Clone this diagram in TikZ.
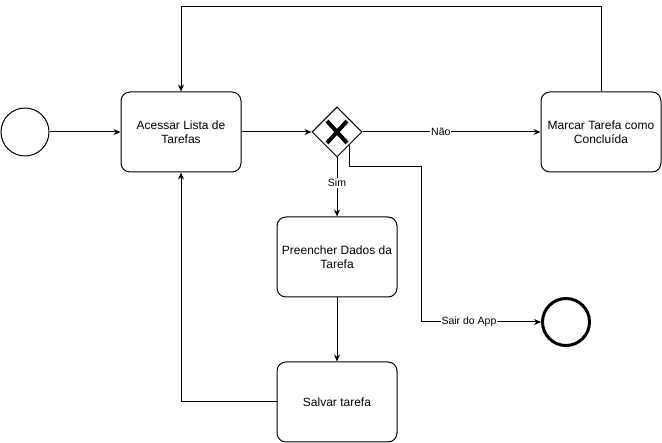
\documentclass[tikz,border=0pt]{standalone}
\usepackage{fontspec}
\setmainfont{Liberation Sans}
\usetikzlibrary{positioning, arrows.meta, shapes.geometric}
\tikzset{
    >={Stealth[length=7pt,width=6pt]}, % arrow heads as in the flow chart
    task/.style={draw, rounded corners=9pt, minimum width=120pt, minimum height=80pt, align=center, font=\fontsize{12}{14.5}\selectfont, line width=1pt},
    event/.style={draw, circle, minimum size=48pt, line width=1pt},
    endevent/.style={draw, circle, minimum size=47pt, line width=3pt},
    gateway/.style={draw, diamond, minimum size=50pt, inner sep=0pt, line width=1pt},
    flow/.style={->, line width=1pt},
    lbl/.style={fill=white, font=\fontsize{10.5}{12}\selectfont, inner sep=1pt}
}

\begin{document}
\begin{tikzpicture}[x=1pt, y=1pt]
            \useasboundingbox (0,0) rectangle (662,-443);
            \node[task] (acc) at (181,-132) {Acessar Lista de\\Tarefas};
            \node[event] (start) [left=71pt of acc] {};
            \node[gateway] (gw) [right=70pt of acc] {};
            \node[task] (marc) [right=178pt of gw] {Marcar Tarefa como\\Concluída};
            \node[task] (pre) [below=59pt of gw] {Preencher Dados da\\Tarefa};
            \node[task] (sal) [below=64pt of pre] {Salvar tarefa};
            \node[endevent] (end) at (566,-322) {};
            \coordinate (top) at (0,-7);
            \coordinate (bend) at (421,-167);

            % X mark of the gateway
            \draw[line width=4pt] ([shift={(-10,-11)}]gw.center) -- ([shift={(10,11)}]gw.center);
            \draw[line width=4pt] ([shift={(-10,11)}]gw.center) -- ([shift={(10,-11)}]gw.center);

            \draw[flow] (start) -- (acc);
            \draw[flow] (acc) -- (gw);
            \draw[flow] (gw) -- node[lbl, pos=0.44] {Não} (marc);
            \draw[flow] (gw) -- node[lbl, pos=0.43] {Sim} (pre);
            \draw[flow] (pre) -- (sal);
            \draw[flow] (sal.west) -| (acc.south);
            \draw[flow] (marc.north) -- (marc.north |- top) -| (acc.north);
            \draw[flow] (gw.south east) |- (bend) |- node[lbl, pos=0.7] {Sair do App} (end);
        \end{tikzpicture}
\end{document}
